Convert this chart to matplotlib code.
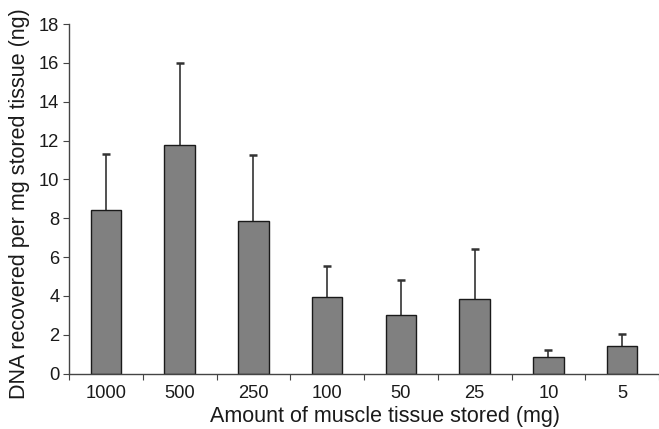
import matplotlib
matplotlib.use("Agg")
import matplotlib.pyplot as plt
import numpy as np

categories = ["1000", "500", "250", "100", "50", "25", "10", "5"]
means = [8.43, 11.78, 7.86, 3.96, 3.02, 3.84, 0.88, 1.43]
err_upper = [2.87, 4.19, 3.40, 1.58, 1.82, 2.59, 0.32, 0.61]
y_ticks = [0, 2, 4, 6, 8, 10, 12, 14, 16, 18]

plt.rcParams['font.family'] = ['Liberation Sans', 'DejaVu Sans']

W, H = 659, 429
left_px, bottom_px, top_px = 69, 373.7, 24
fig = plt.figure(figsize=(W/100, H/100), dpi=100)
ax = fig.add_axes([left_px/W, 1 - bottom_px/H, 1 - left_px/W, (bottom_px - top_px)/H])
ax_w = W - left_px
ax_h = bottom_px - top_px

x = np.arange(len(categories))
ax.bar(x, means, width=0.414, color="#808080", edgecolor="#1a1a1a", linewidth=1.0, zorder=2)
eb = ax.errorbar(x, means, yerr=[np.zeros(len(means)), err_upper], fmt="none",
                 ecolor="#333333", elinewidth=1.2, capsize=3.0, capthick=1.8, zorder=1)
caps = eb[1]
if len(caps) == 2:
    caps[0].set_visible(False)

ax.set_xlim(-0.5, -0.5 + ax_w/74.1)
ax.set_ylim(0, 18)
ax.set_yticks(y_ticks)
ax.set_yticklabels([str(t) for t in y_ticks], fontsize=13.2, color="#1a1a1a")

ax.set_xticks(np.arange(-0.5, len(categories), 1.0))
ax.set_xticklabels([])
ax.set_xticks(x, minor=True)
ax.set_xticklabels(categories, minor=True, fontsize=13.2, color="#1a1a1a")
ax.tick_params(axis='x', which='minor', length=0, pad=8)
ax.tick_params(axis='x', which='major', length=4, direction='out', color="#444444")
ax.tick_params(axis='y', length=4, direction='out', color="#444444", pad=3)

for s in ["top", "right"]:
    ax.spines[s].set_visible(False)
for s in ["left", "bottom"]:
    ax.spines[s].set_color("#444444")
    ax.spines[s].set_linewidth(1.0)

ax.set_xlabel("Amount of muscle tissue stored (mg)", fontsize=15.5, color="#1a1a1a", va="center")
ax.xaxis.set_label_coords((384.5 - left_px)/ax_w, (bottom_px - 416.7)/ax_h)
ax.set_ylabel("DNA recovered per mg stored tissue (ng)", fontsize=15.5, color="#1a1a1a", va="center")
ax.yaxis.set_label_coords((20 - left_px)/ax_w, (bottom_px - 204)/ax_h)

fig.savefig("out.png", dpi=100)
